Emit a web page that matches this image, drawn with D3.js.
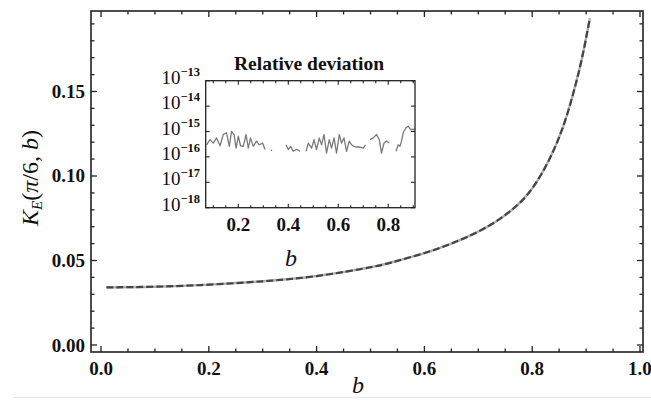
<!DOCTYPE html>
<html>
<head>
<meta charset="utf-8">
<script src="https://cdn.jsdelivr.net/npm/d3@7"></script>
<style>
  body { margin: 0; background: #fff; }
  text { font-family: "Liberation Serif", "DejaVu Serif", serif; fill: #111; }
</style>
</head>
<body>
<div id="chart"></div>
<script>
// main curve K_E(pi/6, b)
const mainB = [0.01, 0.10, 0.20, 0.30, 0.40, 0.50, 0.55, 0.60, 0.65, 0.70, 0.74, 0.77, 0.80, 0.833, 0.858, 0.876, 0.892, 0.907];
const mainK = [0.0341, 0.0345, 0.0357, 0.0377, 0.0408, 0.0460, 0.0498, 0.0544, 0.0600, 0.0671, 0.0746, 0.0821, 0.0926, 0.1106, 0.1298, 0.1487, 0.1692, 0.1933];

// inset: relative deviation (null = gap where the deviation is zero)
const insetB = [0.073, 0.087, 0.100, 0.113, 0.127, 0.140, 0.153, 0.164, 0.173, 0.183, 0.191, 0.200, 0.209, 0.220, 0.231, 0.240, 0.249, 0.260, 0.273, 0.284, 0.297, 0.307, 0.32,
  0.331, 0.335, 0.36,
  0.391, 0.400, 0.409, 0.420, 0.433, 0.447, 0.46,
  0.471, 0.480, 0.493, 0.503, 0.513, 0.524, 0.533, 0.543, 0.553, 0.564, 0.573, 0.583, 0.593, 0.604, 0.613, 0.623, 0.633, 0.644, 0.653, 0.663, 0.673, 0.687, 0.700, 0.709, 0.718,
  0.727, 0.740, 0.753, 0.764, 0.773, 0.783, 0.793, 0.804, 0.82,
  0.831, 0.840, 0.847, 0.853, 0.860, 0.871, 0.880, 0.889, 0.900, 0.907];
const insetDev = [3.0e-16, 4.8e-16, 3.5e-16, 5.6e-16, 2.75e-16, 7.6e-16, 8.9e-16, 2.6e-16, 1.02e-15, 7.6e-16, 2.2e-16, 6.5e-16, 2.75e-16, 2.6e-16, 7.6e-16, 2.2e-16, 5.6e-16, 2.6e-16, 4.2e-16, 3.0e-16, 3.5e-16, 1.95e-16, null,
  1.85e-16, 1.75e-16, null,
  3.0e-16, 1.95e-16, 2.6e-16, 1.66e-16, 2.0e-16, 1.66e-16, null,
  1.66e-16, 3.5e-16, 2.2e-16, 4.8e-16, 1.95e-16, 5.6e-16, 3.0e-16, 7.6e-16, 1.4e-16, 4.8e-16, 2.2e-16, 5.6e-16, 1.4e-16, 7.6e-16, 3.5e-16, 5.6e-16, 1.66e-16, 4.2e-16, 3.0e-16, 2.6e-16, 2.45e-16, 2.45e-16, 2.2e-16, 3.0e-16, null,
  4.8e-16, 5.6e-16, 7.6e-16, 4.8e-16, 1.4e-16, 3.5e-16, 4.2e-16, 3.5e-16, null,
  1.66e-16, 3.0e-16, 2.6e-16, 4.2e-16, 8.9e-16, 1.4e-15, 1.6e-15, 1.2e-15, 1.2e-15, 1.3e-15];

const mainXTicks = [0, 0.2, 0.4, 0.6, 0.8, 1.0];
const mainYTicks = [0, 0.05, 0.10, 0.15];
const insetXTicks = [0.2, 0.4, 0.6, 0.8];
const insetYExp = [-13, -14, -15, -16, -17, -18];

const W = 651, H = 401;
let svg = d3.select('#chart').append('svg').attr('width', W).attr('height', H);

// faint line at the bottom of the scan
svg.append('line').attr('x1', 13).attr('x2', W).attr('y1', 397.5).attr('y2', 397.5)
    .attr('stroke', '#e6e6e6').attr('stroke-width', 1);

//主图
let x = d3.scaleLinear().domain([-0.0186, 1.0056]).range([91, 643]);
let y = d3.scaleLinear().domain([-0.00414, 0.19763]).range([352, 11]);

let frame = svg.append('g');
function ticksAll(g, xs, ys, xsc, ysc, box, majX, majY, len) {
    // x ticks bottom and top, y ticks left and right, pointing inward
    xs.forEach(function (t) {
        let L = majX.some(m => Math.abs(m - t) < 1e-9) ? len[0] : len[1];
        let px = xsc(t);
        g.append('line').attr('x1', px).attr('x2', px).attr('y1', box.b).attr('y2', box.b - L);
        g.append('line').attr('x1', px).attr('x2', px).attr('y1', box.t).attr('y2', box.t + L);
    });
    ys.forEach(function (t) {
        let L = majY.some(m => Math.abs(m - t) <= Math.abs(m) * 1e-6 + 1e-12) ? len[0] : len[1];
        let py = ysc(t);
        g.append('line').attr('y1', py).attr('y2', py).attr('x1', box.l).attr('x2', box.l + L);
        g.append('line').attr('y1', py).attr('y2', py).attr('x1', box.r).attr('x2', box.r - L);
    });
}

let mainBox = {l: 91, r: 643, t: 11, b: 352};
let tg = frame.append('g').attr('stroke', '#222').attr('stroke-width', 1.3);
ticksAll(tg, d3.range(0, 1.0001, 0.05), d3.range(0, 0.1951, 0.01), x, y, mainBox,
    mainXTicks, mainYTicks, [6, 3.5]);
frame.append('rect').attr('x', 91).attr('y', 11).attr('width', 552).attr('height', 341)
    .attr('fill', 'none').attr('stroke', '#222').attr('stroke-width', 1.6);

// tick labels
frame.selectAll('.xl').data(mainXTicks).enter().append('text')
    .attr('x', d => x(d)).attr('y', 375).attr('text-anchor', 'middle')
    .style('font-size', '19px').style('font-weight', 'bold')
    .text(d => d.toFixed(1));
frame.selectAll('.yl').data(mainYTicks).enter().append('text')
    .attr('x', 85).attr('y', d => y(d) + 6.5).attr('text-anchor', 'end')
    .style('font-size', '19px').style('font-weight', 'bold')
    .text(d => d.toFixed(2));

// axis labels
svg.append('text').attr('x', 358).attr('y', 393).attr('text-anchor', 'middle')
    .style('font-size', '24px').style('font-style', 'italic').text('b');
let yl = svg.append('text').attr('transform', 'translate(38,178) rotate(-90)')
    .attr('text-anchor', 'middle').style('font-size', '24px');
yl.append('tspan').style('font-style', 'italic').text('K');
yl.append('tspan').style('font-style', 'italic').style('font-size', '15px').attr('dy', 4).text('E');
yl.append('tspan').attr('dy', -4).text('(');
yl.append('tspan').style('font-style', 'italic').text('π');
yl.append('tspan').text('/6, ');
yl.append('tspan').style('font-style', 'italic').text('b');
yl.append('tspan').text(')');

// curve: light solid line with dark dashes on top
let mainData = mainB.map((b, i) => [b, mainK[i]]);
let line = d3.line().x(d => x(d[0])).y(d => y(d[1])).curve(d3.curveNatural);
svg.append('path').attr('d', line(mainData)).attr('fill', 'none')
    .attr('stroke', '#b0b0b0').attr('stroke-width', 2.4);
svg.append('path').attr('d', line(mainData)).attr('fill', 'none')
    .attr('stroke', '#444').attr('stroke-width', 2.2).attr('stroke-dasharray', '7,3');

//插图
let ix = d3.scaleLinear().domain([0.0696, 0.907]).range([205.7, 415]);
let iy = d3.scaleLog().domain([1e-18, 1e-13]).range([207.7, 80.7]);
let insetBox = {l: 205.7, r: 415, t: 80.7, b: 207.7};
let inset = svg.append('g');
inset.append('rect').attr('x', 205.7).attr('y', 80.7).attr('width', 209.3).attr('height', 127)
    .attr('fill', '#fff').attr('stroke', 'none');

let insetData = insetB.map((b, i) => [b, insetDev[i]]);
let iline = d3.line().defined(d => d[1] !== null)
    .x(d => ix(d[0])).y(d => iy(d[1]));
inset.append('path').attr('d', iline(insetData)).attr('fill', 'none')
    .attr('stroke', '#7a7a7a').attr('stroke-width', 1.3).attr('stroke-linejoin', 'round');

let ig = inset.append('g').attr('stroke', '#222').attr('stroke-width', 1.1);
let iyTicks = insetYExp.map(e => Math.pow(10, e));
ticksAll(ig, d3.range(0.1, 0.9001, 0.05).filter(t => t >= 0.0696 && t <= 0.907), iyTicks, ix, iy, insetBox,
    insetXTicks, iyTicks, [4, 2.5]);
inset.append('rect').attr('x', 205.7).attr('y', 80.7).attr('width', 209.3).attr('height', 127)
    .attr('fill', 'none').attr('stroke', '#222').attr('stroke-width', 1.3);

inset.selectAll('.ixl').data(insetXTicks).enter().append('text')
    .attr('x', d => ix(d)).attr('y', 231).attr('text-anchor', 'middle')
    .style('font-size', '19px').style('font-weight', 'bold')
    .text(d => d.toFixed(1));
insetYExp.forEach(function (e) {
    let t = inset.append('text').attr('x', 200).attr('y', iy(Math.pow(10, e)) + 3)
        .attr('text-anchor', 'end').style('font-size', '19px');
    t.append('tspan').text('10');
    t.append('tspan').attr('dy', -8).style('font-size', '12.5px').style('font-weight', 'bold').text('−' + (-e));
});
inset.append('text').attr('x', 309).attr('y', 70).attr('text-anchor', 'middle')
    .style('font-size', '19.5px').style('font-weight', 'bold').text('Relative deviation');
inset.append('text').attr('x', 291).attr('y', 266).attr('text-anchor', 'middle')
    .style('font-size', '24px').style('font-style', 'italic').text('b');
</script>
</body>
</html>
